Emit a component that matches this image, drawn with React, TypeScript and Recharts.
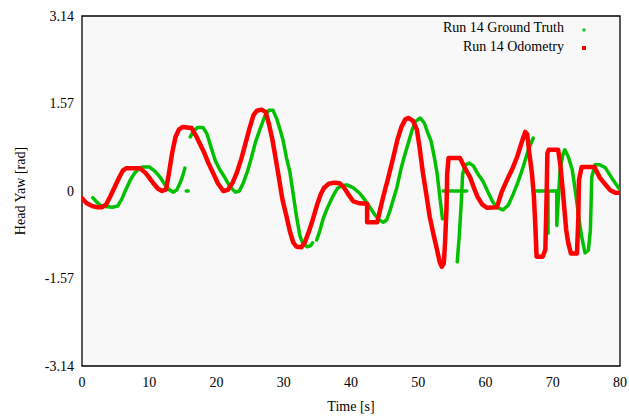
import React from 'react';
import { LineChart, Line, XAxis, YAxis, ReferenceArea, Legend } from 'recharts';

// Ground truth samples (time [s], yaw [rad]); null breaks the trace
const gtTime = [
  1.6, 2.2, 2.8, 3.5, 4.5, 5.3, 5.9, 6.5, 7.2, 7.8, 8.4, 9.0, 10.0, 10.8, 11.6, 12.4, 13.0, 13.6, 14.1, 14.6, 15.0, 15.3,
  15.3, 15.5, 15.8, 15.8,
  16.1, 16.6, 17.2, 18.0, 18.6, 19.2, 19.8, 20.5, 21.2, 22.0, 22.8, 23.4, 24.0, 24.6, 25.2, 25.8, 26.5, 27.2, 27.8, 28.4,
  29.0, 29.5, 29.9, 30.4, 30.9, 31.4, 31.9, 32.4, 32.9, 33.5, 34.0, 34.3,
  34.3, 34.9, 35.4, 35.8, 36.4, 37.0, 37.5, 38.0, 38.7, 39.4, 40.3, 41.3, 42.0, 42.8, 43.5, 44.2, 44.8, 45.3, 45.8, 46.3,
  46.8, 47.4, 48.0, 48.5, 49.1, 49.6, 50.3, 50.9, 51.4, 51.9, 52.4, 52.8, 53.2, 53.6,
  53.6, 53.7, 57.2, 57.2,
  55.8, 56.1, 56.4, 56.6, 57.0, 57.6, 58.2, 58.9, 59.6, 60.3, 61.1, 61.8, 62.6, 63.4, 64.1, 64.8, 65.6, 66.4, 67.1,
  67.1, 67.4, 70.8, 70.8,
  69.3, 69.3, 69.3,
  70.6, 70.6, 70.8, 71.1, 71.5, 71.8, 72.3, 72.9, 73.3, 73.6, 74.0, 74.3, 74.8, 75.3, 75.6, 75.8, 76.3, 77.0, 77.8, 78.8,
  79.7, 80.0,
];
const gtYaw = [
  -0.12, -0.2, -0.26, -0.28, -0.29, -0.27, -0.15, 0.02, 0.2, 0.32, 0.39, 0.43, 0.43, 0.36, 0.25, 0.1, 0.02, -0.02, 0.02, 0.15, 0.28, 0.41,
  null, 0.0, 0.0, null,
  0.97, 1.08, 1.14, 1.14, 1.02, 0.78, 0.55, 0.38, 0.25, 0.08, -0.02, 0.0, 0.15, 0.35, 0.6, 0.88, 1.12, 1.35, 1.45, 1.45,
  1.28, 1.08, 0.91, 0.6, 0.35, -0.05, -0.46, -0.8, -0.96, -1.0, -0.98, -0.93,
  null, -0.88, -0.7, -0.52, -0.33, -0.17, -0.05, 0.05, 0.1, 0.11, 0.06, -0.04, -0.15, -0.29, -0.42, -0.52, -0.56, -0.52, -0.35, -0.15,
  0.05, 0.38, 0.65, 0.85, 1.1, 1.25, 1.31, 1.22, 1.05, 0.9, 0.6, 0.32, -0.1, -0.5,
  null, 0.0, 0.0, null,
  -1.27, -0.8, -0.2, 0.3, 0.47, 0.5, 0.45, 0.3, 0.18, 0.0, -0.2, -0.3, -0.34, -0.25, -0.06, 0.15, 0.43, 0.75, 0.95,
  null, 0.0, 0.0, null,
  -0.02, -0.76, null,
  -0.02, -0.62, -0.2, 0.38, 0.65, 0.74, 0.62, 0.38, 0.05, -0.22, -0.58, -0.82, -1.11, -1.06, -0.7, 0.25, 0.47, 0.47, 0.42, 0.23,
  0.07, 0.03,
];

// Odometry samples (time [s], yaw [rad])
const odoTime = [
  0.0, 0.7, 1.5, 2.2, 3.0, 3.6, 4.2, 4.9, 5.6, 6.1, 6.6, 8.6, 9.4, 10.0, 10.6, 11.3, 11.9, 12.5, 12.9, 13.4, 13.9, 14.4,
  15.0, 16.3, 17.0, 17.6, 18.2, 18.8, 19.5, 20.2, 21.0, 21.7, 22.4, 23.0, 23.7, 24.3, 24.9, 25.5, 26.0, 26.7, 27.3, 27.8,
  28.3, 28.8, 29.3, 29.8, 30.4, 30.9, 31.4, 31.9, 32.6, 33.1, 33.7, 34.3, 34.9, 35.5, 36.0, 36.7, 37.5, 38.3, 38.9, 39.6,
  40.3, 41.2, 42.4, 42.4, 43.9, 44.3, 44.8, 45.5, 46.3, 46.9, 47.5, 48.1, 48.6, 49.2, 49.8, 50.2, 50.7, 51.2, 51.7, 52.3,
  52.8, 53.2, 53.5, 53.8, 54.0, 54.2, 54.3, 54.5, 56.2, 56.9, 57.7, 58.3, 58.8, 59.5, 60.2, 61.7, 62.4, 63.2, 64.0, 64.7,
  65.4, 65.9, 66.2, 66.5, 66.9, 67.2, 67.4, 67.6, 68.5, 68.9, 69.1, 69.2, 69.4, 70.8, 71.1, 71.5, 72.0, 72.3, 72.7, 73.6,
  73.8, 73.9, 74.3, 76.2, 77.0, 77.8, 78.5, 79.3, 80.0,
];
const odoYaw = [
  -0.13, -0.22, -0.27, -0.29, -0.29, -0.24, -0.1, 0.08, 0.26, 0.37, 0.41, 0.41, 0.33, 0.24, 0.14, 0.04, 0.0, 0.03, 0.3, 0.68, 0.97, 1.1,
  1.15, 1.13, 0.98, 0.83, 0.68, 0.5, 0.32, 0.14, 0.0, 0.02, 0.15, 0.32, 0.58, 0.85, 1.12, 1.36, 1.44, 1.46, 1.42, 1.2,
  0.93, 0.58, 0.22, -0.15, -0.45, -0.72, -0.92, -1.0, -1.01, -0.93, -0.74, -0.52, -0.27, -0.06, 0.06, 0.13, 0.15, 0.14, 0.07, -0.06,
  -0.18, -0.22, -0.23, -0.56, -0.56, -0.35, -0.1, 0.22, 0.61, 0.92, 1.15, 1.29, 1.31, 1.26, 1.1, 0.78, 0.32, -0.06, -0.46, -0.8,
  -1.06, -1.28, -1.36, -1.3, -0.9, -0.3, 0.3, 0.59, 0.59, 0.42, 0.25, 0.05, -0.1, -0.24, -0.3, -0.29, -0.02, 0.2, 0.4, 0.61,
  0.88, 1.06, 1.02, 0.7, 0.32, -0.1, -0.6, -1.18, -1.18, -1.05, 0.0, 0.68, 0.74, 0.74, 0.5, 0.0, -0.7, -0.93, -1.12, -1.12,
  -0.5, 0.2, 0.43, 0.43, 0.24, 0.12, 0.02, -0.03, -0.03,
];

const xTicks = [0, 10, 20, 30, 40, 50, 60, 70, 80];
const yTicks = [-3.14, -1.57, 0, 1.57, 3.14];
const seriesNames = ['Run 14 Ground Truth', 'Run 14 Odometry'];

const gtData = gtTime.map((t, i) => ({ t, yaw: gtYaw[i] }));
const odoData = odoTime.map((t, i) => ({ t, yaw: odoYaw[i] }));

const FONT = '"Liberation Serif", "Times New Roman", serif';

const YLabel = (props: any) => {
  const vb = props.viewBox || { x: 0, y: 16, width: 82, height: 350 };
  const cx = 20;
  const cy = vb.y + vb.height / 2;
  return (
    <text
      x={cx}
      y={cy}
      transform={`rotate(-90, ${cx}, ${cy})`}
      textAnchor="middle"
      dominantBaseline="central"
      fontFamily={FONT}
      fontSize={14}
      fill="#000"
    >
      Head Yaw [rad]
    </text>
  );
};

const renderLegend = (props: any) => {
  const payload = props.payload || [];
  return (
    <svg width={629} height={60} style={{ display: 'block' }}>
      {payload.map((p: any, i: number) => {
        const y = 32 + i * 19;
        return (
          <g key={i}>
            <text x={564} y={y} textAnchor="end" fontFamily={FONT} fontSize={14} fill="#000">
              {p.value}
            </text>
            {i === 0 ? (
              <g stroke={p.color} strokeWidth={1.2}>
                <line x1={582} x2={586} y1={y - 2} y2={y - 2} />
                <line x1={584} x2={584} y1={y - 4} y2={y} />
              </g>
            ) : (
              <rect x={582} y={y - 5} width={4} height={4} fill={p.color} />
            )}
          </g>
        );
      })}
    </svg>
  );
};

export default function App() {
  return (
    <div style={{ position: 'absolute', left: 0, top: 0, width: 629, height: 420, background: '#fff' }}>
      <LineChart width={629} height={420} margin={{ top: 16, right: 9, bottom: 0, left: 0 }}>
        <XAxis
          dataKey="t"
          type="number"
          domain={[0, 80]}
          ticks={xTicks}
          allowDataOverflow
          height={54}
          tickLine={false}
          axisLine={false}
          tickMargin={5}
          tick={{ fontSize: 14, fill: '#000', fontFamily: FONT }}
          label={{ value: 'Time [s]', position: 'insideBottom', offset: 9, fontSize: 14, fill: '#000', fontFamily: FONT }}
        />
        <YAxis
          type="number"
          domain={[-3.14, 3.14]}
          ticks={yTicks}
          allowDataOverflow
          width={82}
          tickLine={false}
          axisLine={false}
          tick={{ fontSize: 14, fill: '#000', fontFamily: FONT }}
          label={<YLabel />}
        />
        <ReferenceArea x1={0} x2={80} y1={-3.14} y2={3.14} fill="#f8f8f8" fillOpacity={1} stroke="#000" strokeWidth={1.3} />
        <Legend
          layout="horizontal"
          verticalAlign="middle"
          align="center"
          content={renderLegend}
          wrapperStyle={{ position: 'absolute', left: 0, top: 0, width: 629, height: 60 }}
        />
        <Line
          data={gtData}
          dataKey="yaw"
          name={seriesNames[0]}
          type="linear"
          stroke="#00c000"
          strokeWidth={3.5}
          dot={false}
          activeDot={false}
          connectNulls={false}
          isAnimationActive={false}
          strokeLinejoin="round"
          strokeLinecap="round"
        />
        <Line
          data={odoData}
          dataKey="yaw"
          name={seriesNames[1]}
          type="linear"
          stroke="#ff0000"
          strokeWidth={4.5}
          dot={false}
          activeDot={false}
          connectNulls={false}
          isAnimationActive={false}
          strokeLinejoin="round"
          strokeLinecap="round"
        />
      </LineChart>
    </div>
  );
}
